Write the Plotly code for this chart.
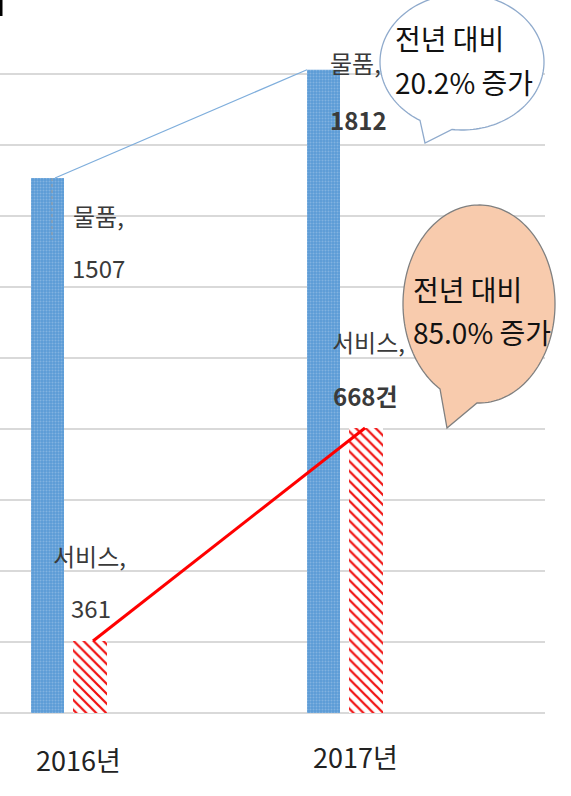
import numpy as np
import plotly.graph_objects as go

# ---- data ----
years = ["2016년", "2017년"]
goods = [1507, 1812]        # 물품
services = [361, 668]       # 서비스
goods_labels = ["물품,", "물품,"]
service_labels = ["서비스,", "서비스,"]
service_value_text = ["361", "668건"]
growth_goods = "20.2%"
growth_services = "85.0%"

# ---- geometry (pixels of the 571x796 page) ----
W, H = 571, 796
PL, PR, PT, PB = 0, 545, 3, 713
X0, XSTEP = 69, 276   # pixel of category 0 and spacing


def fx(px):
    return (px - PL) / (PR - PL)


def fy(py):
    return (PB - py) / (PB - PT)


def dx(px):
    return (px - X0) / XSTEP


xcat = [0, 1]
FONT = "Noto Sans CJK KR, Noto Sans, sans-serif"
TXT = "#3A3A3A"

fig = go.Figure()

# blue bars (물품)
fig.add_trace(go.Bar(
    x=xcat, y=goods, width=33 / XSTEP, offset=dx(31),
    marker=dict(color="#5B9BD5", line=dict(width=0),
                pattern=dict(shape=".", fillmode="overlay", fgcolor="#A9C9EC",
                             size=3, solidity=0.35)),
    showlegend=False, hoverinfo="skip"))

# red hatched bars (서비스) on secondary axis
fig.add_trace(go.Bar(
    x=xcat, y=services, width=34 / XSTEP, offset=dx(73), yaxis="y2",
    marker=dict(color="#FF0000", line=dict(width=0),
                pattern=dict(shape="\\", fillmode="replace", fgcolor="#F01010",
                             bgcolor="white", size=7, solidity=0.32)),
    showlegend=False, hoverinfo="skip"))

# connecting lines
fig.add_trace(go.Scatter(
    x=[dx(55), dx(307)], y=goods, mode="lines",
    line=dict(color="#7FAEDC", width=1.3), showlegend=False, hoverinfo="skip"))
fig.add_trace(go.Scatter(
    x=[dx(93), dx(365)], y=services, mode="lines", yaxis="y2",
    line=dict(color="#FF0000", width=3), showlegend=False, hoverinfo="skip"))

# ---- speech bubbles ----
def bubble(cx, cy, rx, ry, bx1, bx2, tip):
    t1 = np.arccos(np.clip((bx1 - cx) / rx, -1, 1))   # right base
    t2 = np.arccos(np.clip((bx2 - cx) / rx, -1, 1))   # left base
    ts = np.linspace(t2, t1 + 2 * np.pi, 160)
    pts = [(cx + rx * np.cos(t), cy + ry * np.sin(t)) for t in ts]
    pts.append(tip)
    path = "M " + " L ".join(f"{fx(px):.5f},{fy(py):.5f}" for px, py in pts) + " Z"
    return path


shapes = [
    dict(type="path", xref="paper", yref="paper",
         path=bubble(462, 62, 82, 68, 452, 420, (425, 143)),
         fillcolor="white", line=dict(color="#8FAACC", width=1.3), layer="above"),
    dict(type="path", xref="paper", yref="paper",
         path=bubble(479, 304, 76, 99, 477, 440, (447, 428)),
         fillcolor="#F8CBAD", line=dict(color="#808080", width=1.3), layer="above"),
    dict(type="line", xref="paper", yref="paper", x0=fx(52), x1=fx(52),
         y0=fy(178), y1=fy(240), line=dict(color="#9A9A9A", width=1, dash="dot")),
    dict(type="rect", xref="paper", yref="paper", x0=0, x1=fx(2.5),
         y0=fy(0), y1=fy(16), fillcolor="black", line=dict(width=0)),
]

ann = []


def text(s, px, py, size, xanchor="left", bold=False, color=TXT):
    if bold:
        s = f"<b>{s}</b>"
    ann.append(dict(text=s, x=fx(px), y=fy(py), xref="paper", yref="paper",
                    xanchor=xanchor, yanchor="middle", showarrow=False,
                    font=dict(family=FONT, size=size, color=color)))


# bar labels
text(goods_labels[0], 71, 215, 24)
text(str(goods[0]), 70, 268, 24)
text(goods_labels[1], 328, 62, 24)
text(str(goods[1]), 328, 119, 24, bold=True)
text(service_labels[0], 51, 555, 24)
text(service_value_text[0], 69, 607, 24)
text(service_labels[1], 330, 341, 24)
text(service_value_text[1], 331, 396, 24, bold=True)

# bubble texts
text("전년 대비", 393, 38, 28, color="#111111")
text(f"{growth_goods} 증가", 393, 82, 28, color="#111111")
text("전년 대비", 411, 289, 28, color="#111111")
text(f"{growth_services} 증가", 411, 332, 28, color="#111111")

# category labels
text(years[0], 78, 760, 27, xanchor="center", color="#222222")
text(years[1], 355, 757, 27, xanchor="center", color="#222222")

fig.update_layout(
    width=W, height=H,
    margin=dict(l=PL, r=W - PR, t=PT, b=H - PB, pad=0),
    paper_bgcolor="white", plot_bgcolor="white",
    barmode="overlay",
    xaxis=dict(range=[dx(PL), dx(PR)], showgrid=False, zeroline=False,
               showticklabels=False, showline=False, fixedrange=True),
    yaxis=dict(range=[0, 2000], dtick=200, showgrid=True, gridcolor="#D9D9D9",
               gridwidth=2, zeroline=True, zerolinecolor="#D9D9D9", zerolinewidth=2,
               showticklabels=False, showline=False),
    yaxis2=dict(range=[257.3, 1280.6], overlaying="y", side="right", visible=False),
    shapes=shapes, annotations=ann,
)

fig.write_html("out.html", config={"displayModeBar": False},
               post_script="document.body.style.margin='0px';")
